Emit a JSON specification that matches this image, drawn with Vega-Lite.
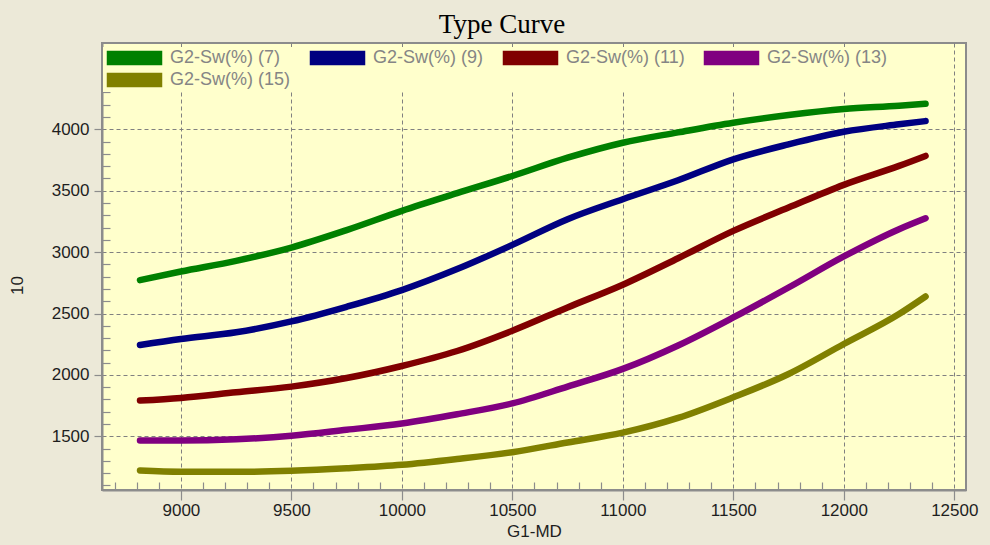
{
  "$schema": "https://vega.github.io/schema/vega-lite/v6.json",
  "width": 864,
  "height": 447,
  "autosize": "none",
  "padding": {"left": 102, "top": 43, "right": 24, "bottom": 55},
  "background": "#ECE9D8",
  "title": {
    "text": "Type Curve",
    "font": "Liberation Serif",
    "fontSize": 27,
    "fontWeight": "normal",
    "color": "#000000",
    "anchor": "middle",
    "frame": "group",
    "baseline": "alphabetic",
    "offset": 12,
    "dx": -32,
    "dy": 29
  },
  "config": {
    "view": {"fill": "#FFFFCC", "stroke": "#8C8C8C", "strokeWidth": 2},
    "axis": {
      "labelFont": "Liberation Sans",
      "labelFontSize": 17,
      "labelColor": "#1E1E1E",
      "titleFont": "Liberation Sans",
      "titleFontSize": 17,
      "titleFontWeight": "normal",
      "titleColor": "#1E1E1E",
      "domainColor": "#8C8C8C",
      "domainWidth": 2,
      "tickColor": "#8C8C8C",
      "tickWidth": 1.2,
      "gridColor": "#808080",
      "gridDash": [4, 3],
      "gridWidth": 1
    }
  },
  "data": {
    "values": [
      {"md": 8815, "v": 2772, "s": "G2-Sw(%) (7)"},
      {"md": 9000, "v": 2842, "s": "G2-Sw(%) (7)"},
      {"md": 9250, "v": 2929, "s": "G2-Sw(%) (7)"},
      {"md": 9500, "v": 3037, "s": "G2-Sw(%) (7)"},
      {"md": 9750, "v": 3179, "s": "G2-Sw(%) (7)"},
      {"md": 10000, "v": 3336, "s": "G2-Sw(%) (7)"},
      {"md": 10250, "v": 3480, "s": "G2-Sw(%) (7)"},
      {"md": 10500, "v": 3620, "s": "G2-Sw(%) (7)"},
      {"md": 10750, "v": 3769, "s": "G2-Sw(%) (7)"},
      {"md": 11000, "v": 3891, "s": "G2-Sw(%) (7)"},
      {"md": 11250, "v": 3975, "s": "G2-Sw(%) (7)"},
      {"md": 11500, "v": 4054, "s": "G2-Sw(%) (7)"},
      {"md": 11750, "v": 4116, "s": "G2-Sw(%) (7)"},
      {"md": 12000, "v": 4165, "s": "G2-Sw(%) (7)"},
      {"md": 12250, "v": 4192, "s": "G2-Sw(%) (7)"},
      {"md": 12370, "v": 4208, "s": "G2-Sw(%) (7)"},

      {"md": 8815, "v": 2244, "s": "G2-Sw(%) (9)"},
      {"md": 9000, "v": 2293, "s": "G2-Sw(%) (9)"},
      {"md": 9250, "v": 2347, "s": "G2-Sw(%) (9)"},
      {"md": 9500, "v": 2436, "s": "G2-Sw(%) (9)"},
      {"md": 9750, "v": 2555, "s": "G2-Sw(%) (9)"},
      {"md": 10000, "v": 2691, "s": "G2-Sw(%) (9)"},
      {"md": 10250, "v": 2862, "s": "G2-Sw(%) (9)"},
      {"md": 10500, "v": 3059, "s": "G2-Sw(%) (9)"},
      {"md": 10750, "v": 3268, "s": "G2-Sw(%) (9)"},
      {"md": 11000, "v": 3431, "s": "G2-Sw(%) (9)"},
      {"md": 11250, "v": 3585, "s": "G2-Sw(%) (9)"},
      {"md": 11500, "v": 3756, "s": "G2-Sw(%) (9)"},
      {"md": 11750, "v": 3878, "s": "G2-Sw(%) (9)"},
      {"md": 12000, "v": 3980, "s": "G2-Sw(%) (9)"},
      {"md": 12250, "v": 4041, "s": "G2-Sw(%) (9)"},
      {"md": 12370, "v": 4067, "s": "G2-Sw(%) (9)"},

      {"md": 8815, "v": 1791, "s": "G2-Sw(%) (11)"},
      {"md": 9000, "v": 1813, "s": "G2-Sw(%) (11)"},
      {"md": 9250, "v": 1859, "s": "G2-Sw(%) (11)"},
      {"md": 9500, "v": 1905, "s": "G2-Sw(%) (11)"},
      {"md": 9750, "v": 1975, "s": "G2-Sw(%) (11)"},
      {"md": 10000, "v": 2073, "s": "G2-Sw(%) (11)"},
      {"md": 10250, "v": 2195, "s": "G2-Sw(%) (11)"},
      {"md": 10500, "v": 2360, "s": "G2-Sw(%) (11)"},
      {"md": 10750, "v": 2550, "s": "G2-Sw(%) (11)"},
      {"md": 11000, "v": 2735, "s": "G2-Sw(%) (11)"},
      {"md": 11250, "v": 2950, "s": "G2-Sw(%) (11)"},
      {"md": 11500, "v": 3173, "s": "G2-Sw(%) (11)"},
      {"md": 11750, "v": 3363, "s": "G2-Sw(%) (11)"},
      {"md": 12000, "v": 3548, "s": "G2-Sw(%) (11)"},
      {"md": 12250, "v": 3702, "s": "G2-Sw(%) (11)"},
      {"md": 12370, "v": 3783, "s": "G2-Sw(%) (11)"},

      {"md": 8815, "v": 1466, "s": "G2-Sw(%) (13)"},
      {"md": 9000, "v": 1466, "s": "G2-Sw(%) (13)"},
      {"md": 9250, "v": 1476, "s": "G2-Sw(%) (13)"},
      {"md": 9500, "v": 1504, "s": "G2-Sw(%) (13)"},
      {"md": 9750, "v": 1553, "s": "G2-Sw(%) (13)"},
      {"md": 10000, "v": 1605, "s": "G2-Sw(%) (13)"},
      {"md": 10250, "v": 1680, "s": "G2-Sw(%) (13)"},
      {"md": 10500, "v": 1768, "s": "G2-Sw(%) (13)"},
      {"md": 10750, "v": 1905, "s": "G2-Sw(%) (13)"},
      {"md": 11000, "v": 2049, "s": "G2-Sw(%) (13)"},
      {"md": 11250, "v": 2240, "s": "G2-Sw(%) (13)"},
      {"md": 11500, "v": 2468, "s": "G2-Sw(%) (13)"},
      {"md": 11750, "v": 2712, "s": "G2-Sw(%) (13)"},
      {"md": 12000, "v": 2965, "s": "G2-Sw(%) (13)"},
      {"md": 12250, "v": 3187, "s": "G2-Sw(%) (13)"},
      {"md": 12370, "v": 3276, "s": "G2-Sw(%) (13)"},

      {"md": 8815, "v": 1222, "s": "G2-Sw(%) (15)"},
      {"md": 9000, "v": 1212, "s": "G2-Sw(%) (15)"},
      {"md": 9250, "v": 1211, "s": "G2-Sw(%) (15)"},
      {"md": 9500, "v": 1220, "s": "G2-Sw(%) (15)"},
      {"md": 9750, "v": 1240, "s": "G2-Sw(%) (15)"},
      {"md": 10000, "v": 1268, "s": "G2-Sw(%) (15)"},
      {"md": 10250, "v": 1315, "s": "G2-Sw(%) (15)"},
      {"md": 10500, "v": 1371, "s": "G2-Sw(%) (15)"},
      {"md": 10750, "v": 1450, "s": "G2-Sw(%) (15)"},
      {"md": 11000, "v": 1530, "s": "G2-Sw(%) (15)"},
      {"md": 11250, "v": 1650, "s": "G2-Sw(%) (15)"},
      {"md": 11500, "v": 1818, "s": "G2-Sw(%) (15)"},
      {"md": 11750, "v": 2008, "s": "G2-Sw(%) (15)"},
      {"md": 12000, "v": 2252, "s": "G2-Sw(%) (15)"},
      {"md": 12250, "v": 2496, "s": "G2-Sw(%) (15)"},
      {"md": 12370, "v": 2639, "s": "G2-Sw(%) (15)"}
    ]
  },
  "mark": {"type": "line", "strokeWidth": 6.5, "strokeCap": "round", "strokeJoin": "round", "interpolate": "monotone", "clip": true},
  "encoding": {
    "x": {
      "field": "md",
      "type": "quantitative",
      "title": "G1-MD",
      "scale": {"domain": [8643, 12553], "nice": false, "zero": false},
      "axis": {
        "values": [8700, 8800, 8900, 9000, 9100, 9200, 9300, 9400, 9500, 9600, 9700, 9800, 9900, 10000, 10100, 10200, 10300, 10400, 10500, 10600, 10700, 10800, 10900, 11000, 11100, 11200, 11300, 11400, 11500, 11600, 11700, 11800, 11900, 12000, 12100, 12200, 12300, 12400, 12500],
        "format": "d",
        "labelExpr": "datum.value % 500 === 0 ? datum.label : ''",
        "tickSize": {"condition": {"test": "datum.value % 500 === 0", "value": 10}, "value": -8},
        "gridOpacity": {"condition": {"test": "datum.value % 500 === 0", "value": 1}, "value": 0},
        "labelPadding": 2,
        "labelFlush": false,
        "labelOverlap": false,
        "titlePadding": 5
      }
    },
    "y": {
      "field": "v",
      "type": "quantitative",
      "title": "10",
      "scale": {"domain": [1063, 4703], "nice": false, "zero": false},
      "axis": {
        "values": [1100, 1200, 1300, 1400, 1500, 1600, 1700, 1800, 1900, 2000, 2100, 2200, 2300, 2400, 2500, 2600, 2700, 2800, 2900, 3000, 3100, 3200, 3300, 3400, 3500, 3600, 3700, 3800, 3900, 4000, 4100, 4200, 4300],
        "format": "d",
        "labelExpr": "datum.value % 500 === 0 ? datum.label : ''",
        "tickSize": {"condition": {"test": "datum.value % 500 === 0", "value": 8}, "value": -8},
        "gridOpacity": {"condition": {"test": "datum.value % 500 === 0", "value": 1}, "value": 0},
        "labelPadding": 5,
        "labelFlush": false,
        "labelOverlap": false,
        "titleX": -85,
        "titleY": 242,
        "titleAngle": 270,
        "titleAlign": "center",
        "titleBaseline": "middle"
      }
    },
    "color": {
      "field": "s",
      "type": "nominal",
      "sort": ["G2-Sw(%) (7)", "G2-Sw(%) (9)", "G2-Sw(%) (11)", "G2-Sw(%) (13)", "G2-Sw(%) (15)"],
      "scale": {
        "domain": ["G2-Sw(%) (7)", "G2-Sw(%) (9)", "G2-Sw(%) (11)", "G2-Sw(%) (13)", "G2-Sw(%) (15)"],
        "range": ["#008000", "#000080", "#800000", "#800080", "#808000"]
      },
      "legend": {
        "title": null,
        "orient": "none",
        "legendX": 1,
        "legendY": 4,
        "direction": "horizontal",
        "columns": 4,
        "gridAlign": "none",
        "columnPadding": 16,
        "rowPadding": 2,
        "padding": 2,
        "fillColor": "#FFFFCC",
        "symbolType": "M-1,-1H7.308V1H-1Z",
        "symbolSize": 169,
        "symbolStrokeWidth": 1.5,
        "labelFont": "Liberation Sans",
        "labelFontSize": 18,
        "labelColor": "#858585",
        "labelOffset": 47,
        "labelLimit": 300,
        "encode": {
          "symbols": {
            "update": {
              "fill": {"scale": "color", "field": "value"},
              "stroke": {"value": "#3A3A3A"},
              "strokeWidth": {"value": 1.5},
              "opacity": {"value": 1},
              "fillOpacity": {"value": 1}
            }
          }
        }
      }
    }
  }
}
